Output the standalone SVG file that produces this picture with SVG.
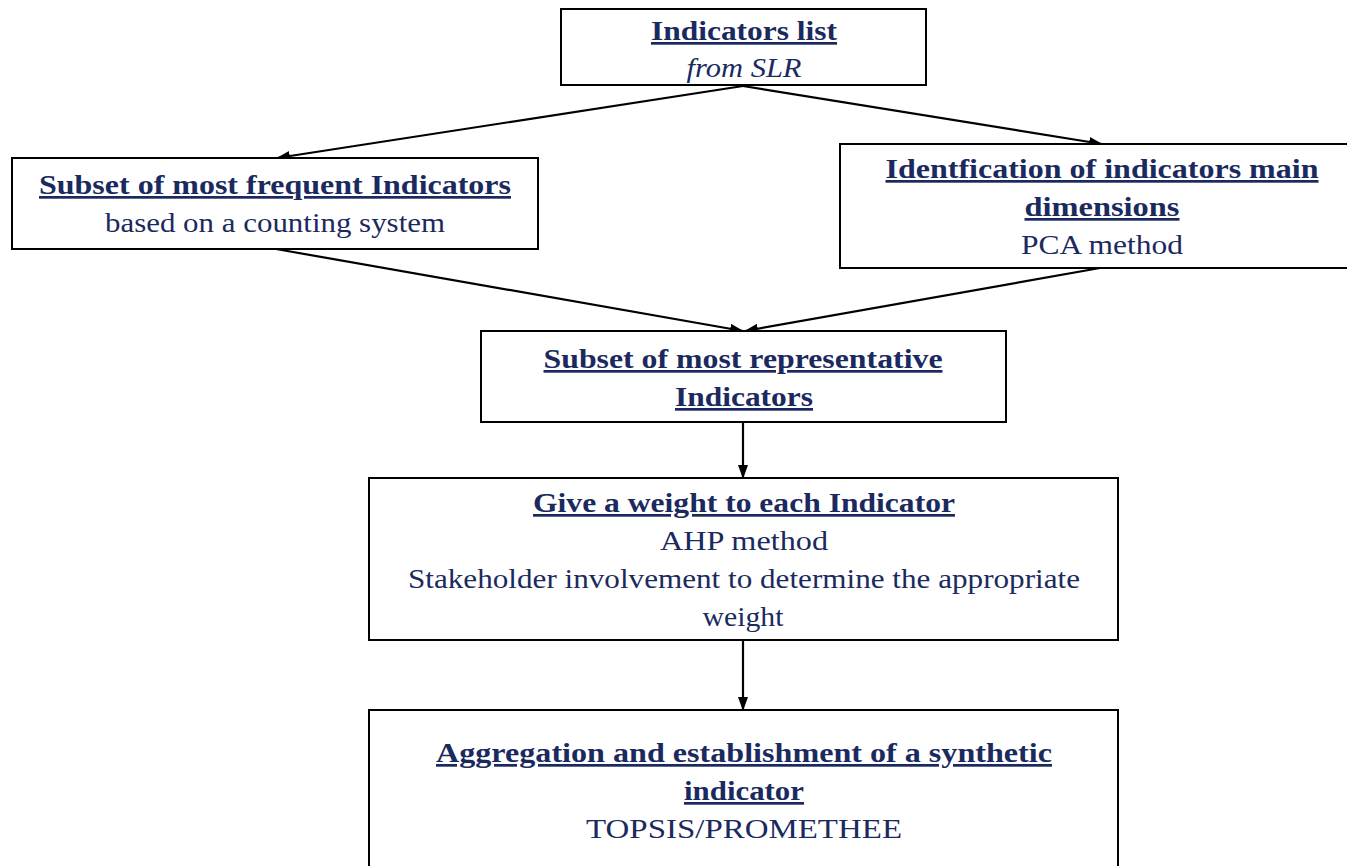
<svg xmlns="http://www.w3.org/2000/svg" width="1347" height="866" viewBox="0 0 1347 866">
<style>
.box{fill:#fff;stroke:#000;stroke-width:2}
.t{font-family:"Liberation Serif","DejaVu Serif",serif;font-size:27px;fill:#1b2a5e;text-anchor:middle}
.b{font-weight:bold;text-decoration:underline}
.i{font-style:italic}
.c{stroke:#000;stroke-width:2.2;fill:none;marker-end:url(#ah)}
</style>
<defs>
<marker id="ah" viewBox="0 0 14 10" refX="13" refY="5" markerWidth="14" markerHeight="10" markerUnits="userSpaceOnUse" orient="auto">
<path d="M0,0 L14,5 L0,10 Z" fill="#000"/>
</marker>
</defs>
<rect width="1347" height="866" fill="#fff"/>
<g id="connectors">
<line class="c" x1="743" y1="86" x2="277" y2="158"/>
<line class="c" x1="743" y1="86" x2="1102" y2="144"/>
<line class="c" x1="276" y1="249" x2="743" y2="331"/>
<line class="c" x1="1100" y1="268" x2="745" y2="331"/>
<line class="c" x1="743" y1="422" x2="743" y2="478"/>
<line class="c" x1="743" y1="640" x2="743" y2="710"/>
</g>
<g id="n1">
<rect class="box" x="561" y="9" width="365" height="76"/>
<text class="t b" x="744" y="40" textLength="186" lengthAdjust="spacingAndGlyphs">Indicators list</text>
<text class="t i" x="744" y="77" textLength="115" lengthAdjust="spacingAndGlyphs">from SLR</text>
</g>
<g id="n2">
<rect class="box" x="12" y="158" width="526" height="91"/>
<text class="t b" x="275" y="194" textLength="472" lengthAdjust="spacingAndGlyphs">Subset of  most frequent Indicators</text>
<text class="t" x="275" y="232" textLength="340" lengthAdjust="spacingAndGlyphs">based on a counting system</text>
</g>
<g id="n3">
<rect class="box" x="840" y="144" width="510" height="124"/>
<text class="t b" x="1102" y="178" textLength="433" lengthAdjust="spacingAndGlyphs">Identfication of  indicators main</text>
<text class="t b" x="1102" y="216" textLength="155" lengthAdjust="spacingAndGlyphs">dimensions</text>
<text class="t" x="1102" y="254" textLength="162" lengthAdjust="spacingAndGlyphs">PCA method</text>
</g>
<g id="n4">
<rect class="box" x="481" y="331" width="525" height="91"/>
<text class="t b" x="743" y="368" textLength="399" lengthAdjust="spacingAndGlyphs">Subset of  most representative</text>
<text class="t b" x="744" y="406" textLength="138" lengthAdjust="spacingAndGlyphs">Indicators</text>
</g>
<g id="n5">
<rect class="box" x="369" y="478" width="749" height="162"/>
<text class="t b" x="744" y="512" textLength="422" lengthAdjust="spacingAndGlyphs">Give a weight to each Indicator</text>
<text class="t" x="744" y="550" textLength="168" lengthAdjust="spacingAndGlyphs">AHP method</text>
<text class="t" x="744" y="588" textLength="672" lengthAdjust="spacingAndGlyphs">Stakeholder involvement to determine the appropriate</text>
<text class="t" x="743" y="626" textLength="81" lengthAdjust="spacingAndGlyphs">weight</text>
</g>
<g id="n6">
<rect class="box" x="369" y="710" width="749" height="170"/>
<text class="t b" x="744" y="762" textLength="616" lengthAdjust="spacingAndGlyphs">Aggregation and establishment of  a synthetic</text>
<text class="t b" x="744" y="800" textLength="120" lengthAdjust="spacingAndGlyphs">indicator</text>
<text class="t" x="744" y="838" textLength="316" lengthAdjust="spacingAndGlyphs">TOPSIS/PROMETHEE</text>
</g>
</svg>
